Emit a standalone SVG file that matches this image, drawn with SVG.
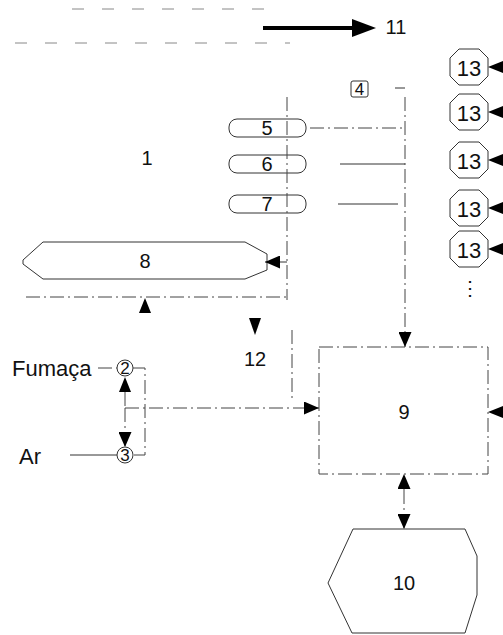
<svg xmlns="http://www.w3.org/2000/svg" width="503" height="635" viewBox="0 0 503 635">
<style>
.t{font-family:"Liberation Sans",Arial,sans-serif;font-size:20px;fill:#111;text-anchor:middle;dominant-baseline:central}
.tl{font-family:"Liberation Sans",Arial,sans-serif;font-size:22px;fill:#111;dominant-baseline:central}
.s{fill:none;stroke:#333;stroke-width:1}
.d{fill:none;stroke:#444;stroke-width:1;stroke-dasharray:14 4 2 4}
.f{fill:none;stroke:#888;stroke-width:1;stroke-dasharray:12 18}
.a{fill:#000}
</style>
<defs>
<polygon id="oct" points="-10,-18 10,-18 19,-9 19,9 10,18 -10,18 -19,9 -19,-9" class="s"/>
<marker id="m" markerUnits="userSpaceOnUse" markerWidth="15" markerHeight="13" refX="15" refY="6.5" orient="auto"><path d="M0,0 L15,6.5 L0,13 Z" fill="#000"/></marker>
</defs>
<g id="frame-lines">
<line x1="72" y1="9" x2="270" y2="9" class="f"/>
<line x1="15" y1="43" x2="290" y2="43" class="f"/>
</g>
<g id="n1"><text x="147" y="158" class="t">1</text></g>
<g id="n11"><text x="396" y="27" class="t">11</text></g>
<g id="n4"><rect x="351" y="81" width="17" height="16" rx="2" class="s"/><text x="359.5" y="89.5" class="t" style="font-size:17px">4</text></g>
<g id="n13a"><use href="#oct" x="469" y="67"/><text x="469" y="68" class="t" style="font-size:22px">13</text></g>
<g id="n13b"><use href="#oct" x="469" y="112"/><text x="469" y="113" class="t" style="font-size:22px">13</text></g>
<g id="n13c"><use href="#oct" x="469" y="160"/><text x="469" y="161" class="t" style="font-size:22px">13</text></g>
<g id="n13d"><use href="#oct" x="469" y="208"/><text x="469" y="209" class="t" style="font-size:22px">13</text></g>
<g id="n13e"><use href="#oct" x="469" y="249"/><text x="469" y="250" class="t" style="font-size:22px">13</text></g>
<g id="dots"><text x="470" y="288" class="t">⋮</text></g>
<g id="n5"><rect x="229" y="119" width="77" height="18" rx="8" class="s"/><text x="267" y="128" class="t">5</text></g>
<g id="n6"><rect x="229" y="155" width="77" height="18" rx="8" class="s"/><text x="267" y="164" class="t">6</text></g>
<g id="n7"><rect x="229" y="195" width="77" height="18" rx="8" class="s"/><text x="267" y="204" class="t">7</text></g>
<g id="n8"><polygon points="23,260 43,242 245,242 267,254 267,270 245,279 43,279 23,264" class="s"/><text x="145" y="261" class="t">8</text></g>
<g id="n12"><text x="255" y="359" class="t">12</text></g>
<g id="nF"><text x="12" y="368" class="tl">Fumaça</text></g>
<g id="nAr"><text x="19" y="456" class="tl">Ar</text></g>
<g id="n2"><circle cx="125" cy="368" r="8" class="s"/><text x="125" y="368.5" class="t" style="font-size:17px">2</text></g>
<g id="n3"><circle cx="125" cy="455" r="8" class="s"/><text x="125" y="455.5" class="t" style="font-size:17px">3</text></g>
<g id="n9"><rect x="319" y="347" width="169" height="127" class="d"/><text x="404" y="412" class="t">9</text></g>
<g id="n10"><polygon points="353,529 465,529 477,556 477,595 465,633 352,633 328,583" class="s"/><text x="404" y="583" class="t">10</text></g>
<g id="connectors">
<line x1="263" y1="28" x2="356" y2="28" stroke="#000" stroke-width="4"/>
<path d="M376,28 L352,19 L352,37 Z" class="a"/>
<path d="M488,67 L503,61 L503,73 Z" class="a"/>
<path d="M488,112 L503,106 L503,118 Z" class="a"/>
<path d="M488,160 L503,154 L503,166 Z" class="a"/>
<path d="M488,208 L503,202 L503,214 Z" class="a"/>
<path d="M488,249 L503,243 L503,255 Z" class="a"/>
<line x1="395" y1="88" x2="405" y2="88" class="s"/>
<line x1="310" y1="128" x2="405" y2="128" class="d"/>
<line x1="340" y1="164" x2="405" y2="164" class="s"/>
<line x1="338" y1="204" x2="398" y2="204" class="s"/>
<line x1="405" y1="97" x2="405" y2="347" class="d" marker-end="url(#m)"/>
<line x1="287" y1="97" x2="287" y2="300" class="d"/>
<line x1="292" y1="330" x2="292" y2="400" class="d"/>
<line x1="287" y1="262" x2="265" y2="262" class="s" marker-end="url(#m)"/>
<line x1="26" y1="297" x2="287" y2="297" class="d"/>
<path d="M145,298 L151,313 L139,313 Z" class="a"/>
<path d="M255,335 L249,318 L261,318 Z" class="a"/>
<line x1="98" y1="368" x2="117" y2="368" class="d"/>
<polyline points="133,368 145,368 145,455 133,455" class="d"/>
<line x1="70" y1="455" x2="117" y2="455" class="s"/>
<path d="M125,377 L131,392 L119,392 Z" class="a"/>
<line x1="125" y1="392" x2="125" y2="408" class="d"/>
<line x1="125" y1="408" x2="319" y2="408" class="d" marker-end="url(#m)"/>
<line x1="125" y1="408" x2="125" y2="447" class="d" marker-end="url(#m)"/>
<path d="M488,412 L503,406 L503,418 Z" class="a"/>
<line x1="404" y1="490" x2="404" y2="474" class="d" marker-end="url(#m)"/>
<line x1="404" y1="490" x2="404" y2="529" class="d" marker-end="url(#m)"/>
</g>
</svg>
